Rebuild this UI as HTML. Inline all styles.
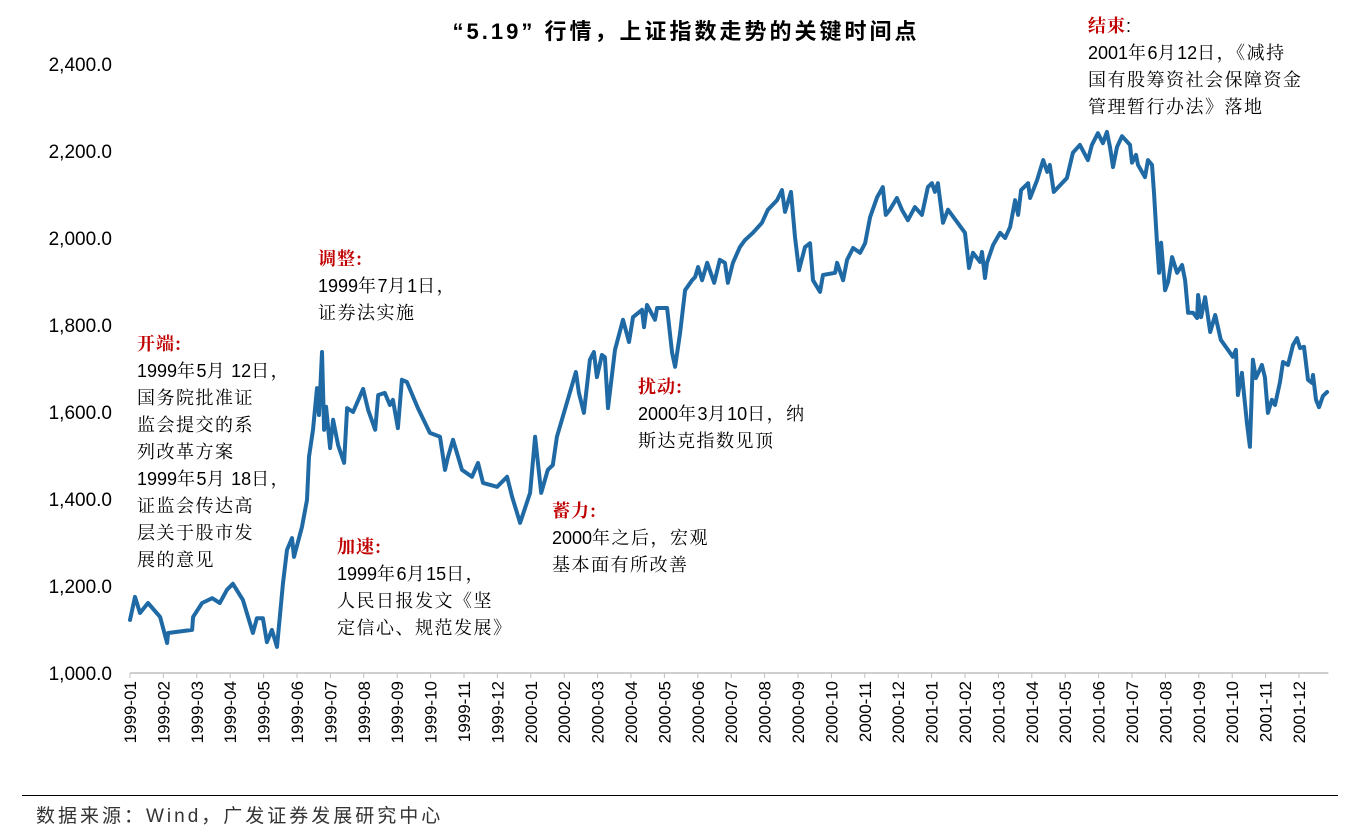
<!DOCTYPE html>
<html><head><meta charset="utf-8">
<style>
body{margin:0;background:#fff;width:1358px;height:837px;overflow:hidden;position:relative;font-family:"Liberation Sans","Noto Sans CJK SC",sans-serif;}
.t{position:absolute;white-space:nowrap;font-size:18px;color:#000;line-height:26px;}
.r{color:#c00000;font-weight:bold;font-family:"Noto Serif CJK SC","Liberation Serif",serif;letter-spacing:1px;}
.c{font-family:"Liberation Sans","Noto Serif CJK SC",serif;}
.k{font-family:"Noto Serif CJK SC",serif;letter-spacing:1.5px;font-size:18px;}
</style></head><body>
<svg id="chart" width="1358" height="837" style="position:absolute;left:0;top:0"></svg>
<div class="t" style="left:0;width:1372px;text-align:center;top:19px;font-size:22px;font-weight:bold;letter-spacing:3px;">“5.19” 行情，上证指数走势的关键时间点</div>

<div class="t" style="left:137px;top:330px"><span class="r">开端:</span><br><span class="c">1999<span class="k">年</span>5<span class="k">月</span> 12<span class="k">日，</span><br><span class="k">国务院批准证</span><br><span class="k">监会提交的系</span><br><span class="k">列改革方案</span><br>1999<span class="k">年</span>5<span class="k">月</span> 18<span class="k">日，</span><br><span class="k">证监会传达高</span><br><span class="k">层关于股市发</span><br><span class="k">展的意见</span></span></div>
<div class="t" style="left:318px;top:245px"><span class="r">调整:</span><br><span class="c">1999<span class="k">年</span>7<span class="k">月</span>1<span class="k">日，</span><br><span class="k">证券法实施</span></span></div>
<div class="t" style="left:337px;top:533px"><span class="r">加速:</span><br><span class="c">1999<span class="k">年</span>6<span class="k">月</span>15<span class="k">日，</span><br><span class="k">人民日报发文《坚</span><br><span class="k">定信心、规范发展》</span></span></div>
<div class="t" style="left:552px;top:497px"><span class="r">蓄力:</span><br><span class="c">2000<span class="k">年之后，宏观</span><br><span class="k">基本面有所改善</span></span></div>
<div class="t" style="left:638px;top:373px"><span class="r">扰动:</span><br><span class="c">2000<span class="k">年</span>3<span class="k">月</span>10<span class="k">日，纳</span><br><span class="k">斯达克指数见顶</span></span></div>
<div class="t" style="left:1088px;top:12px"><span class="r">结束</span><span class="c">:</span><br><span class="c">2001<span class="k">年</span>6<span class="k">月</span>12<span class="k">日，《减持</span><br><span class="k">国有股筹资社会保障资金</span><br><span class="k">管理暂行办法》落地</span></span></div>

<div style="position:absolute;left:22px;top:795px;width:1316px;height:1px;background:#000"></div>
<div class="t" style="left:36px;top:804px;font-size:19px;color:#333;letter-spacing:3px">数据来源：Wind，广发证券发展研究中心</div>

<script>
const yTicks=[1000,1200,1400,1600,1800,2000,2200,2400];
const months=[];
for(let y=1999;y<=2001;y++)for(let m=1;m<=12;m++)months.push(y+'-'+String(m).padStart(2,'0'));
const tMonths=[0,0.15,0.3,0.54,0.9,1.11,1.14,1.86,1.89,2.16,2.46,2.69,2.9,3.08,3.38,3.68,3.8,3.98,4.1,4.25,4.4,4.58,4.7,4.85,4.91,5.15,5.3,5.36,5.48,5.6,5.66,5.75,5.81,5.87,5.99,6.08,6.23,6.41,6.5,6.68,6.98,7.13,7.34,7.43,7.63,7.78,7.87,8.02,8.14,8.29,8.62,8.98,9.28,9.43,9.52,9.67,9.94,10.24,10.42,10.57,10.99,11.29,11.44,11.68,11.98,12.13,12.31,12.51,12.66,12.78,13.35,13.44,13.59,13.77,13.89,13.98,14.13,14.22,14.31,14.52,14.76,14.94,15.06,15.33,15.39,15.48,15.72,15.78,16.08,16.23,16.32,16.47,16.62,16.83,16.92,17.01,17.13,17.28,17.49,17.66,17.81,17.9,18.05,18.26,18.41,18.65,18.92,19.1,19.37,19.52,19.61,19.79,19.91,20.03,20.21,20.36,20.45,20.66,20.75,21.11,21.17,21.35,21.47,21.65,21.86,22.01,22.16,22.37,22.54,22.63,22.75,22.96,23.11,23.29,23.5,23.71,23.89,24.01,24.1,24.19,24.34,24.49,25,25.12,25.24,25.45,25.51,25.6,25.66,25.84,26.05,26.2,26.35,26.5,26.59,26.68,26.89,26.95,27.16,27.34,27.46,27.54,27.66,28.05,28.23,28.44,28.68,28.8,28.98,29.13,29.25,29.34,29.43,29.55,29.7,29.94,30,30.12,30.18,30.39,30.48,30.6,30.66,30.75,30.81,30.87,30.99,31.08,31.2,31.35,31.5,31.59,31.68,31.83,31.95,31.98,32.07,32.19,32.34,32.49,32.66,33.02,33.11,33.17,33.29,33.44,33.53,33.62,33.71,33.89,33.98,34.07,34.19,34.28,34.43,34.52,34.67,34.82,34.94,35.03,35.15,35.27,35.39,35.42,35.51,35.6,35.72,35.84];
const values=[1122,1175,1138,1161,1129,1069,1092,1099,1129,1161,1172,1161,1191,1205,1168,1092,1126,1126,1071,1099,1060,1207,1283,1310,1267,1336,1398,1497,1559,1655,1593,1738,1559,1612,1517,1582,1524,1483,1609,1600,1653,1605,1559,1639,1644,1616,1628,1563,1674,1669,1609,1552,1543,1467,1497,1536,1467,1451,1483,1437,1428,1451,1405,1345,1414,1543,1414,1467,1478,1543,1692,1644,1598,1720,1738,1680,1731,1726,1609,1743,1812,1761,1818,1835,1795,1846,1812,1839,1839,1736,1704,1782,1880,1903,1910,1933,1903,1943,1897,1950,1943,1897,1943,1979,1995,2012,2035,2065,2087,2110,2060,2106,2002,1926,1979,1988,1903,1876,1915,1920,1943,1903,1950,1977,1966,1988,2048,2094,2117,2053,2065,2092,2065,2041,2071,2053,2117,2126,2106,2126,2035,2065,2012,1931,1966,1945,1968,1908,1943,1984,2012,2000,2025,2087,2053,2110,2126,2092,2133,2179,2152,2168,2106,2138,2196,2214,2179,2214,2241,2218,2244,2209,2163,2209,2234,2214,2173,2191,2168,2140,2179,2168,2104,1989,1920,1989,1880,1899,1956,1920,1938,1903,1828,1828,1816,1869,1818,1864,1784,1823,1766,1727,1743,1639,1690,1575,1520,1720,1678,1708,1680,1598,1628,1616,1669,1715,1708,1754,1770,1747,1750,1674,1667,1685,1628,1611,1637,1646];

const NS='http://www.w3.org/2000/svg';
const svg=document.getElementById('chart');
const X0=130,MW=33.4,Y0=673,PY=87/200;
const xS=m=>X0+m*MW;
const yS=v=>Y0-(v-1000)*PY;
function mk(tag,attrs){const e=document.createElementNS(NS,tag);for(const k in attrs)e.setAttribute(k,attrs[k]);svg.appendChild(e);return e;}

yTicks.forEach(v=>{
  const t=mk('text',{x:112,y:yS(v)+7,'text-anchor':'end','font-size':19,'font-family':'Liberation Sans, sans-serif',fill:'#000'});
  t.textContent=v.toLocaleString('en-US',{minimumFractionDigits:1});
  
  
});
const ax=mk('line',{x1:X0,y1:Y0,x2:X0+36*MW-4,y2:Y0,stroke:'#bfbfbf','stroke-width':1.5});


months.forEach((m,i)=>{
  const x=xS(i);
  const tk=mk('line',{x1:x,y1:Y0,x2:x,y2:Y0+5,stroke:'#bfbfbf','stroke-width':1});
  
  
  const t=mk('text',{x:0,y:0,'text-anchor':'end','font-size':17,'font-family':'Liberation Sans, sans-serif',fill:'#000',transform:`translate(${x+6},${Y0+8}) rotate(-90)`});
  t.textContent=m;
  
  
});
const d=tMonths.map((t,i)=>(i?'L':'M')+xS(t).toFixed(1)+','+yS(values[i]).toFixed(1)).join('');
const p=mk('path',{d:d,fill:'none',stroke:'#1f6aa5','stroke-width':4,'stroke-linejoin':'round','stroke-linecap':'round'});


</script>
</body></html>
